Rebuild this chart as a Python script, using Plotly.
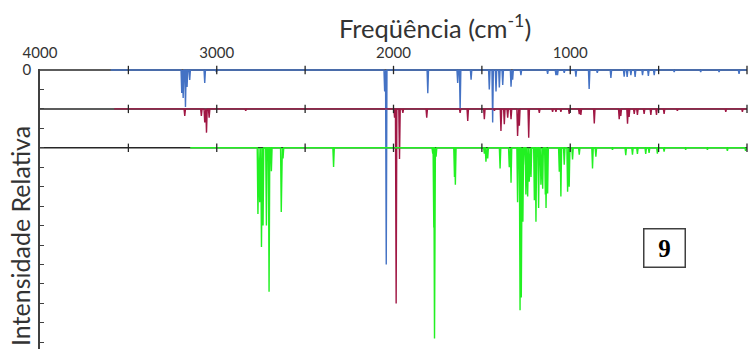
import plotly.graph_objects as go

# ---- axis ticks ----
freq_ticks = [4000, 3000, 2000, 1000, 0]
freq_tick_text = ["4000", "3000", "2000", "1000", "0"]
baseline_tick_freqs = [3500, 3000, 2500, 2000, 1500, 1000, 500, 0]
intensity_label_ticks = [0]
intensity_label_text = ["0"]
intensity_ticks = [round(0.1 * i, 1) for i in range(15)]

# ---- spectrum 1 (blue) ----
blue_freq = [3198, 3190, 3177, 3168, 3153, 3068, 3002, 2050, 2041, 1806, 1637, 1623,
             1561, 1458, 1439, 1420, 1401, 1382, 1335, 1326, 1279, 1128, 1081, 1072,
             1034, 968, 893, 847, 770, 695, 678, 657, 633, 591, 558, 525, 412, 262,
             158, 45]
blue_int = [0.118, 0.144, 0.19, 0.087, 0.051, 0.067, 0.01, 0.11, 1.0, 0.12, 0.067, 0.21,
            0.05, 0.10, 0.27, 0.11, 0.09, 0.077, 0.086, 0.05, 0.026, 0.02, 0.026, 0.026,
            0.015, 0.034, 0.098, 0.015, 0.041, 0.034, 0.036, 0.026, 0.036, 0.026, 0.031,
            0.026, 0.01, 0.01, 0.01, 0.02]

# ---- spectrum 2 (red) ----
red_freq = [3181, 3087, 3068, 3058, 3043, 2836, 1994, 1985, 1966, 1947, 1812, 1623,
            1580, 1486, 1429, 1392, 1373, 1354, 1335, 1298, 1288, 1235, 1175, 1100,
            1081, 1053, 1006, 949, 940, 864, 723, 714, 676, 667, 638, 620, 582, 544,
            512, 469, 394, 120, 26]
red_int = [0.036, 0.036, 0.07, 0.122, 0.045, 0.01, 0.045, 1.0, 0.257, 0.02, 0.045, 0.02,
           0.062, 0.053, 0.01, 0.113, 0.079, 0.045, 0.053, 0.139, 0.087, 0.148, 0.02,
           0.015, 0.015, 0.015, 0.026, 0.027, 0.031, 0.075, 0.053, 0.036, 0.076, 0.041,
           0.026, 0.031, 0.026, 0.031, 0.031, 0.026, 0.01, 0.015, 0.015]

# ---- spectrum 3 (green) ----
green_freq = [2767, 2757, 2747, 2738, 2719, 2704, 2691, 2635, 2625, 2339, 1778, 1772,
              1768, 1759, 1655, 1650, 1486, 1477, 1467, 1397, 1345, 1335, 1298, 1284,
              1277, 1268, 1254, 1251, 1241, 1232, 1222, 1203, 1194, 1179, 1166, 1156,
              1141, 1137, 1128, 1062, 1053, 1034, 1015, 1006, 987, 949, 874, 855, 761,
              686, 648, 620, 573, 554, 507, 469, 347, 224, 111, 8]
green_int = [0.34, 0.28, 0.51, 0.40, 0.40, 0.74, 0.12, 0.33, 0.055, 0.098, 0.03, 0.41,
             0.98, 0.046, 0.15, 0.19, 0.03, 0.072, 0.055, 0.106, 0.10, 0.18, 0.28, 0.835,
             0.77, 0.38, 0.087, 0.24, 0.25, 0.175, 0.15, 0.27, 0.38, 0.31, 0.19, 0.21,
             0.24, 0.31, 0.235, 0.123, 0.25, 0.087, 0.226, 0.20, 0.06, 0.036, 0.106,
             0.046, 0.01, 0.038, 0.036, 0.031, 0.031, 0.026, 0.03, 0.02, 0.01, 0.01,
             0.015, 0.015]

# vertical offset of each spectrum and the frequency where its trace begins
spectra = [
    dict(freq=blue_freq, inten=blue_int, offset=0.0, start=3600, color="#4472C4"),
    dict(freq=red_freq, inten=red_int, offset=0.2, start=3580, color="#A01744"),
    dict(freq=green_freq, inten=green_int, offset=0.4, start=3150, color="#22F022"),
]

HALF_WIDTH = 4  # cm-1, half base width of each drawn band


def band_path(freq, inten, offset, start):
    xs, ys = [start], [offset]
    for f, a in sorted(zip(freq, inten), key=lambda p: -p[0]):
        xs += [f + HALF_WIDTH, f, f - HALF_WIDTH]
        ys += [offset, offset + a, offset]
    xs.append(0)
    ys.append(offset)
    return xs, ys


fig = go.Figure()

# black reference lines under each spectrum
for s in spectra:
    fig.add_trace(go.Scatter(x=[4000, 0], y=[s["offset"], s["offset"]], mode="lines",
                             line=dict(color="#262626", width=1.5),
                             hoverinfo="skip", showlegend=False))

for s in spectra:
    xs, ys = band_path(s["freq"], s["inten"], s["offset"], s["start"])
    fig.add_trace(go.Scatter(x=xs, y=ys, mode="lines",
                             line=dict(color=s["color"], width=1.4),
                             hoverinfo="skip", showlegend=False))

# tick marks across each reference line
for s in spectra:
    fig.add_trace(go.Scatter(x=baseline_tick_freqs, y=[s["offset"]] * len(baseline_tick_freqs),
                             mode="markers", cliponaxis=False,
                             marker=dict(symbol="line-ns", size=6,
                                         line=dict(color="#262626", width=1.3)),
                             hoverinfo="skip", showlegend=False))

TEXT = "#333333"
FONT = "Lato"

fig.update_layout(
    width=750, height=349,
    margin=dict(l=40, r=3, t=69, b=0),
    paper_bgcolor="white", plot_bgcolor="white",
    xaxis=dict(range=[4000, 0], side="top", tickvals=freq_ticks, ticktext=freq_tick_text,
               showgrid=False, zeroline=False, showline=False, ticks="",
               ticklabelstandoff=7,
               tickfont=dict(family=FONT, size=15, color=TEXT)),
    yaxis=dict(range=[1.4344, -0.00514], tickvals=intensity_label_ticks,
               ticktext=intensity_label_text,
               showgrid=False, zeroline=False, showline=True, linecolor="#404040",
               linewidth=1.5, ticks="inside", ticklen=4, tickwidth=1.3, tickcolor="#404040",
               minor=dict(tickvals=intensity_ticks, ticks="inside", ticklen=4,
                          tickwidth=1.3, tickcolor="#404040", showgrid=False),
               ticklabelstandoff=4,
               tickfont=dict(family=FONT, size=15, color=TEXT)),
    annotations=[
        dict(text="Freqüência (cm<sup>-1</sup>)", xref="paper", yref="paper",
             x=0.5587, y=1.1536, xanchor="center", yanchor="middle", showarrow=False,
             font=dict(family=FONT, size=25.5, color=TEXT)),
        dict(text="Intensidade Relativa", xref="paper", yref="paper",
             x=-0.0283, y=0.4036, xanchor="center", yanchor="middle", textangle=-90,
             showarrow=False, font=dict(family=FONT, size=25, color=TEXT)),
        dict(text="<b>9</b>", xref="paper", yref="paper", x=0.8833, y=0.3607,
             xanchor="center", yanchor="middle", showarrow=False, width=38, height=35,
             bordercolor="#404040", borderwidth=1.5, bgcolor="white",
             font=dict(family="Liberation Serif", size=25, color="black")),
    ],
)

fig.write_html("out.html")
